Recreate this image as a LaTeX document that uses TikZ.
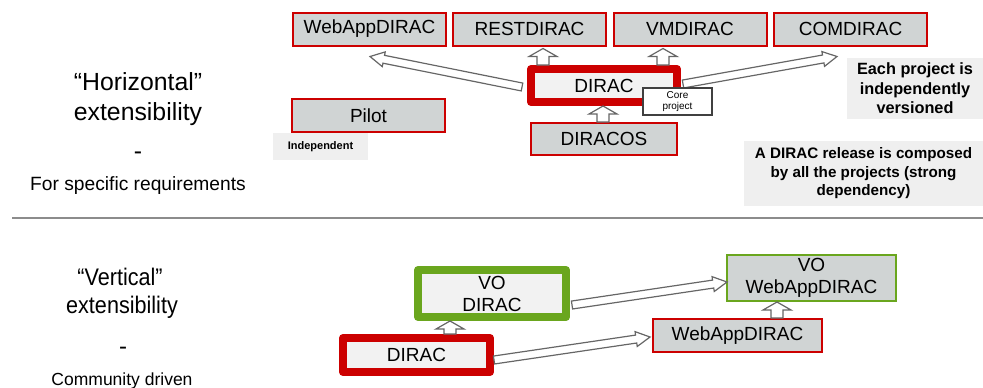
\documentclass[tikz,border=0pt]{standalone}
\usepackage{fontspec}
\setmainfont{Liberation Sans}
\newfontfamily\narrowsans[FakeStretch=0.9]{Liberation Sans}
\usepackage{xcolor}
\usetikzlibrary{calc}

\definecolor{diracred}{HTML}{CC0000}
\definecolor{boxgrey}{HTML}{D0D4D4}
\definecolor{innergrey}{HTML}{F2F2F2}
\definecolor{notegrey}{HTML}{EFEFEF}
\definecolor{vogreen}{HTML}{6AA61E}

\tikzset{
  project/.style={draw=diracred, line width=1pt, fill=boxgrey, inner sep=0pt,
    minimum width=76.5pt, minimum height=16.5pt, align=center,
    font=\fontsize{9.5}{11}\selectfont},
  corebox/.style={project, line width=4pt, line join=round, fill=innergrey,
    minimum width=73pt},
  notebox/.style={fill=notegrey, inner sep=0pt, align=center},
  sidetext/.style={anchor=base, inner sep=0pt},
  fatline/.style={draw=black!60, fill=white, line width=0.6pt}
}

% block arrow: from, to, half shaft, half head, head length
\newcommand\fatarrow[5]{%
  \coordinate (fa0) at (#1);
  \coordinate (fa1) at (#2);
  \draw[fatline] let \p1=($(fa1)-(fa0)$), \n1={atan2(\y1,\x1)},
      \n2={veclen(\x1,\y1)} in
    ($(fa0)+(\n1+90:#3)$) -- ++(\n1:\n2-#5) -- ++(\n1+90:#4-#3) -- (fa1)
    -- ($(fa0)+(\n1:\n2-#5)+(\n1-90:#4)$) -- ++(\n1+90:#4-#3)
    -- ($(fa0)+(\n1-90:#3)$) -- cycle;}

\begin{document}
\begin{tikzpicture}[x=0.5pt, y=-0.5pt]
  \useasboundingbox (0,0) rectangle (983,387);

  % horizontal
  \node[sidetext, font=\fontsize{12.4}{14}\selectfont] (horiz) at (138,90) {“Horizontal”};
  \node[sidetext, font=\fontsize{12.4}{14}\selectfont] (hext) at (138,120) {extensibility};
  \node[sidetext, font=\fontsize{12.4}{14}\selectfont] (hdash) at (138,159) {-};
  \node[sidetext, font=\fontsize{9.6}{11}\selectfont] (hreq) at (138,190) {For specific requirements};

  \node[project] (webtop) at (369.5,29) {WebAppDIRAC};
  \node[project] (rest) at (529.5,29) {RESTDIRAC};
  \node[project] (vm) at (690,29) {VMDIRAC};
  \node[project] (com) at (850.5,29) {COMDIRAC};
  \node[corebox] (dirac) at (604,85.5) {DIRAC};
  \node[project, minimum width=73pt, minimum height=16pt] (diracos) at (604,139) {DIRACOS};
  \node[project] (pilot) at (368.5,115.5) {Pilot};
  \node[notebox, minimum width=47.5pt, minimum height=13.5pt,
    font=\bfseries\fontsize{5.5}{6.5}\selectfont] (indep) at (320.5,146.5) {Independent};

  \fatarrow{$(dirac.west)+(-5,1.5)$}{$(webtop.south)+(0.5,10)$}{2pt}{3.75pt}{7pt}
  \fatarrow{$(dirac.north)+(-61,0)$}{$(rest.south)+(13.5,2)$}{3pt}{7pt}{4pt}
  \fatarrow{$(dirac.north)+(59,0)$}{$(vm.south)+(-27,2)$}{3pt}{7pt}{4pt}
  \fatarrow{$(dirac.east)+(2,-1.5)$}{$(com.south)+(-13.5,10)$}{2pt}{3.75pt}{7pt}
  \fatarrow{$(diracos.north)+(-1,0)$}{$(dirac.south)+(-1,0)$}{3pt}{7pt}{4pt}

  \node[draw=black!75, line width=1pt, fill=white, inner sep=0pt,
    minimum width=34.5pt, minimum height=13.5pt, align=center,
    font=\fontsize{5}{5.5}\selectfont] (core) at (677.5,101.5) {Core\\project};

  \node[notebox, minimum width=68pt, minimum height=30.5pt,
    font=\bfseries\fontsize{8.15}{9.75}\selectfont] (versioned) at (915,88.5)
    {Each project is\\independently\\versioned};
  \node[notebox, minimum width=119.5pt, minimum height=32.5pt,
    font=\bfseries\fontsize{7.6}{9.25}\selectfont] (release) at (863.5,173.5)
    {A DIRAC release is composed\\by all the projects (strong\\dependency)};

  \draw[black!45, line width=0.75pt] (12,218) -- (983,218);

  % vertical
  \node[sidetext, font=\narrowsans\fontsize{12}{14}\selectfont] (vert) at (120,285) {“Vertical”};
  \node[sidetext, font=\narrowsans\fontsize{12}{14}\selectfont] (vext) at (122,313) {extensibility};
  \node[sidetext, font=\fontsize{12}{14}\selectfont] (vdash) at (123,354) {-};
  \node[sidetext, font=\fontsize{8.75}{10}\selectfont] (vcomm) at (122,385) {Community driven};

  \node[corebox, draw=vogreen, minimum width=74pt, minimum height=23.5pt] (vodirac) at (492,293.5) {VO\\DIRAC};
  \node[corebox, minimum width=73.5pt, minimum height=17pt] (diracb) at (416.5,355) {DIRAC};
  \node[project, draw=vogreen, minimum width=84.5pt, minimum height=23pt] (vowebapp) at (811.5,278) {VO\\WebAppDIRAC};
  \node[project, minimum width=84.5pt] (webappb) at (737.5,335.5) {WebAppDIRAC};

  \fatarrow{$(diracb.north)+(33.5,0)$}{$(vodirac.south)+(-42,0)$}{3pt}{7pt}{4pt}
  \fatarrow{$(vodirac.east)+(2,11.5)$}{$(vowebapp.west)+(1,4)$}{2pt}{3.75pt}{7pt}
  \fatarrow{$(diracb.east)+(0,5)$}{$(webappb.west)+(-2,1.5)$}{2pt}{3.75pt}{7pt}
  \fatarrow{$(webappb.north)+(39.5,0)$}{$(vowebapp.south)+(-34.5,0)$}{3pt}{7pt}{4pt}
\end{tikzpicture}
\end{document}
